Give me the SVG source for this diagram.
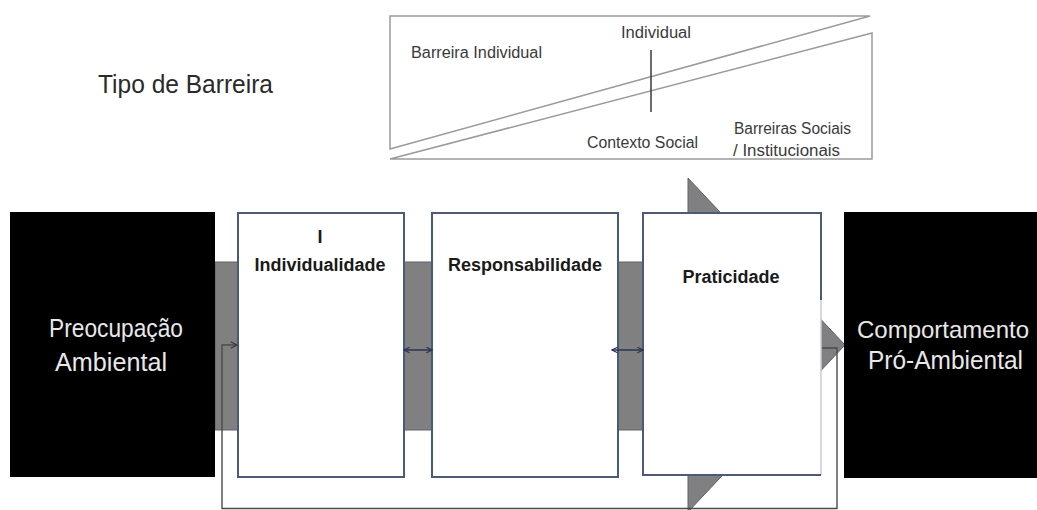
<svg xmlns="http://www.w3.org/2000/svg" width="1037" height="510" viewBox="0 0 1037 510">
  <style>
    .bg { fill: #ffffff; }
    .band { fill: #808080; stroke: #5e6370; stroke-width: 1; }
    .stage { fill: #ffffff; stroke: #4b5a78; stroke-width: 2; }
    .black { fill: #000000; }
    .frame { fill: none; stroke: #9a9a9a; stroke-width: 1.5; }
    .conn { fill: none; stroke: #4a4a4a; stroke-width: 1.4; }
    .dbl { fill: none; stroke: #2b3550; stroke-width: 1.5; }
    .t-big { font-family: "Liberation Sans", Arial, sans-serif; fill: #e8e8e8; font-size: 26px; }
    .t-big.narrow { font-size: 24px; }
    .t-lbl { font-family: "Liberation Sans", Arial, sans-serif; fill: #1a1a1a; font-size: 18px; font-weight: bold; text-anchor: middle; }
    .t-small { font-family: "Liberation Sans", Arial, sans-serif; fill: #3a3a3a; font-size: 16px; }
    .t-title { font-family: "Liberation Sans", Arial, sans-serif; fill: #2a2a2a; font-size: 26px; }
  </style>
  <defs>
    <marker id="open-head" viewBox="0 0 10 10" refX="9" refY="5" markerWidth="7" markerHeight="7" orient="auto-start-reverse" markerUnits="userSpaceOnUse">
      <path d="M1,1 L9,5 L1,9" fill="none" stroke="#2b3550" stroke-width="1.6"/>
    </marker>
    <marker id="loop-head" viewBox="0 0 10 10" refX="9" refY="5" markerWidth="8" markerHeight="8" orient="auto" markerUnits="userSpaceOnUse">
      <path d="M1,1 L9,5 L1,9" fill="none" stroke="#3c3c3c" stroke-width="1.6"/>
    </marker>
  </defs>

  <rect class="bg" x="0" y="0" width="1037" height="510"/>

  <!-- barrier type legend -->
  <g id="legend">
    <text class="t-title" x="98" y="93" textLength="175" lengthAdjust="spacingAndGlyphs">Tipo de Barreira</text>
    <polygon class="frame" points="390,16 870,16 390,149"/>
    <polygon class="frame" points="390,159 872,33 872,159"/>
    <line x1="651" y1="50" x2="651" y2="112" stroke="#3a3a3a" stroke-width="1.5"/>
    <text class="t-small" x="411" y="58" textLength="131" lengthAdjust="spacingAndGlyphs">Barreira Individual</text>
    <text class="t-small" x="621" y="38" textLength="70" lengthAdjust="spacingAndGlyphs">Individual</text>
    <text class="t-small" x="587" y="148" textLength="111" lengthAdjust="spacingAndGlyphs">Contexto Social</text>
    <text class="t-small" x="734" y="134" textLength="117" lengthAdjust="spacingAndGlyphs">Barreiras Sociais</text>
    <text class="t-small" x="733" y="156" textLength="107" lengthAdjust="spacingAndGlyphs">/ Institucionais</text>
  </g>

  <!-- wide grey process arrow behind the stages -->
  <g id="flow-arrow">
    <path class="band" d="M215,262 H688 V178 L845,345 L688,512 V430 H215 Z"/>
  </g>

  <g id="preocupacao">
    <rect class="black" x="10" y="212" width="205" height="265"/>
    <text class="t-big" x="49" y="337" textLength="134" lengthAdjust="spacingAndGlyphs">Preocupação</text>
    <text class="t-big" x="55" y="371" textLength="112" lengthAdjust="spacingAndGlyphs">Ambiental</text>
  </g>

  <g id="individualidade">
    <rect class="stage" x="238" y="213" width="166" height="264"/>
    <text class="t-lbl" x="320" y="243">I</text>
    <text class="t-lbl" x="320" y="271">Individualidade</text>
  </g>

  <g id="responsabilidade">
    <rect class="stage" x="432" y="213" width="186" height="264"/>
    <text class="t-lbl" x="525" y="271">Responsabilidade</text>
  </g>

  <g id="praticidade">
    <rect x="643" y="213" width="178" height="262" fill="#ffffff"/>
    <line x1="821" y1="300" x2="821" y2="475" stroke="#c8ccd4" stroke-width="1.5"/>
    <path d="M821,300 V213 H643 V475 H821" fill="none" stroke="#4b5a78" stroke-width="2"/>
    <text class="t-lbl" x="731" y="283">Praticidade</text>
  </g>

  <g id="comportamento">
    <rect class="black" x="844" y="212" width="193" height="266"/>
    <text class="t-big narrow" x="857" y="338" textLength="172" lengthAdjust="spacingAndGlyphs">Comportamento</text>
    <text class="t-big" x="868" y="369" textLength="155" lengthAdjust="spacingAndGlyphs">Pró-Ambiental</text>
  </g>

  <!-- links between stages and the feedback loop -->
  <g id="connectors">
    <line class="dbl" x1="404" y1="350" x2="432" y2="350" marker-start="url(#open-head)" marker-end="url(#open-head)"/>
    <line class="dbl" x1="612" y1="350" x2="643" y2="350" marker-start="url(#open-head)" marker-end="url(#open-head)"/>
    <path class="conn" d="M822,348 H837 V508.5 H222 V345 H237" marker-end="url(#loop-head)"/>
  </g>
</svg>
